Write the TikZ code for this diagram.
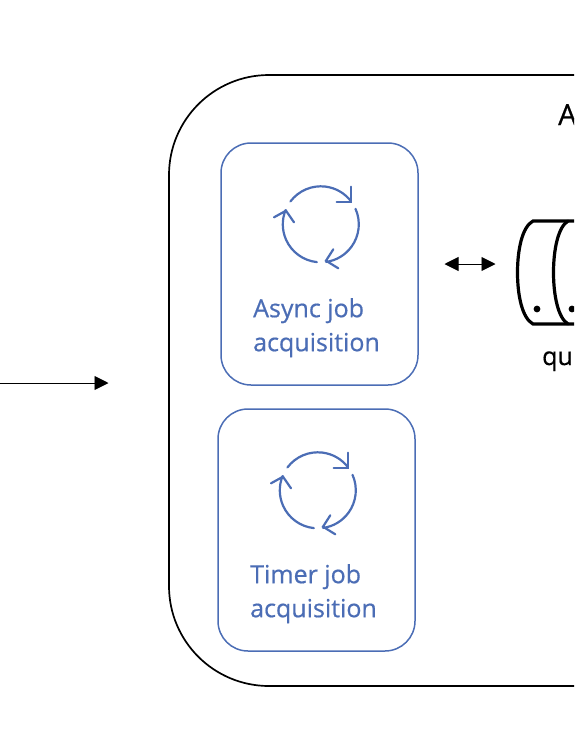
\documentclass[tikz,border=0pt]{standalone}
\usepackage{fontspec}
\setmainfont{Open Sans}
\newfontfamily\jobfont[AutoFakeBold=0.6]{Open Sans}
\usetikzlibrary{arrows.meta}
\definecolor{officeblue}{HTML}{4B6DB5}
\tikzset{
  x=1pt,y=-1pt,
  jobbox/.style={draw=officeblue,line width=1.5pt,rounded corners=30pt,minimum width=197pt,minimum height=242pt,inner sep=0pt},
  joblabel/.style={text=officeblue,font=\jobfont\bfseries\fontsize{25}{34}\selectfont,align=left,anchor=north west,inner sep=0pt},
  iconline/.style={draw=officeblue,line width=2.2pt,line cap=round,line join=miter},
  blacklabel/.style={text=black,font=\jobfont\bfseries\fontsize{29}{32}\selectfont,inner sep=0pt},
  flow/.style={draw=black,line width=0.9pt,-{Triangle[length=14pt,width=14pt]}},
  flowboth/.style={draw=black,line width=0.9pt,{Triangle[length=14pt,width=14pt]}-{Triangle[length=14pt,width=14pt]}},
  queueline/.style={draw=black,line width=3.2pt,line cap=round},
  cycleicon/.pic={
    \draw[iconline] (143:38pt) arc[start angle=143,end angle=37,radius=38pt];
    \draw[iconline] (24:38pt) arc[start angle=24,end angle=-82,radius=38pt];
    \draw[iconline] (-96:38pt) arc[start angle=264,end angle=158,radius=38pt];
    \draw[iconline] (30.2,-37.6) -- (30.2,-22.6) -- (15.9,-22.6);
    \draw[iconline] (12.5,25) -- (5.2,36.4) -- (17.5,44);
    \draw[iconline] (-46.8,-7) -- (-34.8,-13.6) -- (-26.8,-2);
  }
}
\begin{document}
\begin{tikzpicture}
\useasboundingbox (0,0) rectangle (574,748);
\clip (0,0) rectangle (574,748);
% outer container
\draw[black,line width=1.7pt] (700,75) -- (269,75) arc[start angle=90,end angle=180,radius=100pt] -- (169,586) arc[start angle=180,end angle=270,radius=100pt] -- (700,686);
\node[blacklabel,anchor=base west] (title) at (558,125) {A};
% job boxes
\node[jobbox] (async) at (319.5,264) {};
\node[jobbox] (timer) at (316.5,530) {};
\pic at (320.8,224.3) {cycleicon};
\pic at (317.8,490.3) {cycleicon};
\node[joblabel] (asynctext) at (253,298) {Async job\\acquisition};
\node[joblabel] (timertext) at (250,564) {Timer job\\acquisition};
% arrows
\coordinate (inL) at (0,383);
\coordinate (inR) at (108.5,383);
\draw[flow] (inL) -- (inR);
\coordinate (dblL) at (444.5,264);
\coordinate (dblR) at (495.5,264);
\draw[flowboth] (dblL) -- (dblR);
% queue
\coordinate (qtop) at (533,221);
\coordinate (qbot) at (533,324);
\coordinate (qtopr) at (640,221);
\coordinate (qbotr) at (640,324);
\draw[queueline] (qtopr) -- (qtop) .. controls (522,227) and (517.5,250) .. (517.5,272.5) .. controls (517.5,295) and (522,318) .. (qbot) -- (qbotr);
\draw[queueline] (568,221) .. controls (558,227) and (553.5,250) .. (553.5,272.5) .. controls (553.5,295) and (558,318) .. (568,324);
\fill[black] (537,309) circle[radius=3.4pt];
\fill[black] (572,309) circle[radius=3.4pt];
\node[blacklabel,anchor=base west,font=\jobfont\bfseries\fontsize{25}{28}\selectfont] (queue) at (542,365) {qu};
\end{tikzpicture}
\end{document}
